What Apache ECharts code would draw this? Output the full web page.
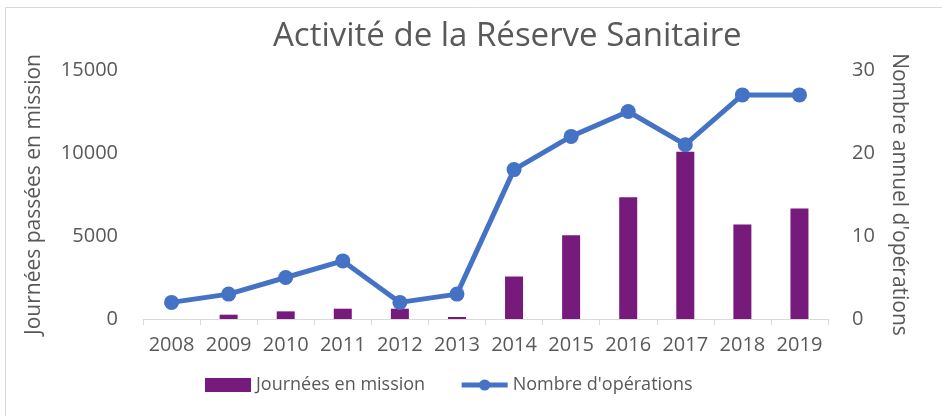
<!DOCTYPE html>
<html>
<head>
<meta charset="utf-8">
<script src="https://cdn.jsdelivr.net/npm/echarts@6/dist/echarts.min.js"></script>
<style>
  html, body { margin: 0; padding: 0; background: #fff; }
  #chart { width: 942px; height: 416px; }
</style>
</head>
<body>
<div id="chart"></div>
<script>
var years = ['2008','2009','2010','2011','2012','2013','2014','2015','2016','2017','2018','2019'];
var journees = [0, 260, 460, 620, 620, 120, 2560, 5040, 7330, 10080, 5690, 6660];
var operations = [2, 3, 5, 7, 2, 3, 18, 22, 25, 21, 27, 27];

var textColor = '#595959';
var fontFam = 'Open Sans, Noto Sans, sans-serif';

var myChart = echarts.init(document.getElementById('chart'));
myChart.setOption({
    animation: false,
    title: {
        text: 'Activité de la Réserve Sanitaire',
        left: 268,
        top: 15,
        textStyle: { color: textColor, fontSize: 33, fontWeight: 'normal', fontFamily: fontFam }
    },
    graphic: [{
        type: 'rect',
        shape: { x: 5.5, y: 7.5, width: 940, height: 410 },
        style: { fill: 'none', stroke: '#d9d9d9', lineWidth: 1 },
        silent: true
    }],
    legend: {
        top: 371,
        left: 200,
        itemGap: 34,
        itemWidth: 46,
        itemHeight: 14,
        textStyle: { color: textColor, fontSize: 18, fontFamily: fontFam },
        data: [
            { name: 'Journées en mission', icon: 'rect' },
            { name: "Nombre d'opérations", lineStyle: { width: 5 } }
        ]
    },
    grid: { left: 143, right: 114, top: 70, bottom: 97 },
    xAxis: {
        type: 'category',
        data: years,
        axisLine: { lineStyle: { color: '#d9d9d9', width: 1 } },
        axisTick: { show: true, length: 6, lineStyle: { color: '#d9d9d9' } },
        axisLabel: { color: textColor, fontSize: 20, margin: 16, interval: 0, fontFamily: fontFam }
    },
    yAxis: [{
        type: 'value',
        min: 0, max: 15000, interval: 5000,
        name: 'Journées passées en mission',
        nameLocation: 'middle',
        nameGap: 98,
        nameTextStyle: { color: textColor, fontSize: 21, fontFamily: fontFam },
        splitLine: { show: false },
        axisLine: { show: false },
        axisTick: { show: false },
        axisLabel: {
            color: textColor, fontSize: 20, margin: 25, fontFamily: fontFam,
            formatter: function(v) { return String(v); }
        }
    }, {
        type: 'value',
        min: 0, max: 30, interval: 10,
        name: "Nombre annuel d'opérations",
        nameLocation: 'middle',
        nameGap: 60,
        nameRotate: -90,
        nameTextStyle: { color: textColor, fontSize: 21, fontFamily: fontFam },
        splitLine: { show: false },
        axisLine: { show: false },
        axisTick: { show: false },
        axisLabel: { color: textColor, fontSize: 20, margin: 24, fontFamily: fontFam }
    }],
    series: [{
        name: 'Journées en mission',
        type: 'bar',
        data: journees,
        barWidth: 18,
        itemStyle: { color: '#761b7b' }
    }, {
        name: "Nombre d'opérations",
        type: 'line',
        yAxisIndex: 1,
        data: operations,
        symbol: 'circle',
        symbolSize: 15,
        lineStyle: { color: '#4472c4', width: 5 },
        itemStyle: { color: '#4472c4' }
    }]
});
</script>
</body>
</html>
